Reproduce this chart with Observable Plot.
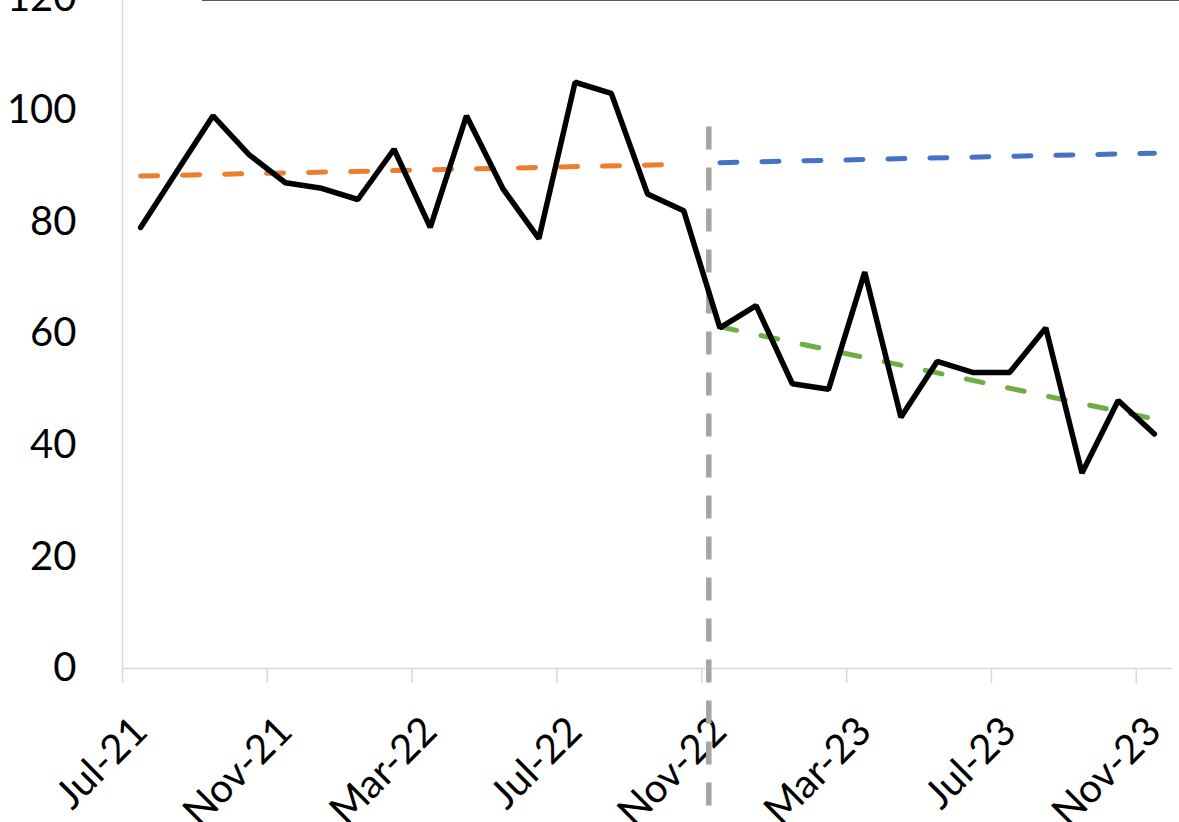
<!DOCTYPE html>
<html><head><meta charset="utf-8">
<script src="https://cdn.jsdelivr.net/npm/d3@7"></script>
<script src="https://cdn.jsdelivr.net/npm/@observablehq/plot@0.6"></script>
<style>
body{margin:0;background:#fff;overflow:hidden}
#wrap{position:relative;width:1179px;height:822px}
#topline{position:absolute;left:202px;top:0;width:977px;height:0;border-top:1.5px solid #595959}
svg{overflow:visible}
</style></head><body><div id="wrap"><div id="chart"></div><div id="topline"></div></div>
<script>
const months = ["Jul-21","Aug-21","Sep-21","Oct-21","Nov-21","Dec-21",
  "Jan-22","Feb-22","Mar-22","Apr-22","May-22","Jun-22","Jul-22","Aug-22","Sep-22","Oct-22","Nov-22","Dec-22",
  "Jan-23","Feb-23","Mar-23","Apr-23","May-23","Jun-23","Jul-23","Aug-23","Sep-23","Oct-23","Nov-23"];
const values = [79,89,99,92,87,86,
  84,93,79,99,86,77,105,103,85,82,61,65,
  51,50,71,45,55,53,53,61,35,48,42];
const tickLabels = ["Jul-21","Nov-21","Mar-22","Jul-22","Nov-22","Mar-23","Jul-23","Nov-23"];
const yTicks = [0,20,40,60,80,100,120];

const preTrendMonths = ["Jul-21","Oct-22"];
const preTrendValues = [88.2,90.3];
const projTrendMonths = ["Nov-22","Nov-23"];
const projTrendValues = [90.6,92.3];
const postTrendMonths = ["Nov-22","Nov-23"];
const postTrendValues = [61.2,44.7];
const cutoffMonth = "Nov-22";
const cutoffRange = [97,-28];

const idx = m => months.indexOf(m);
const series = months.map((m,i)=>({m, v: values[i]}));
const pts = (ms, vs) => ms.map((m,i)=>({m, v: vs[i]}));

const chart = Plot.plot({
  width:1179, height:822,
  marginLeft:122, marginRight:7, marginTop:0, marginBottom:154,
  x:{domain:[0, months.length]},
  y:{domain:[0,120], range:[668,-2]},
  style:{fontFamily:"Lato", fontSize:"40px", color:"#000", background:"white", overflow:"visible"},
  marks:[
    Plot.ruleX([0],{y1:0, y2:120, stroke:"#d9d9d9", strokeWidth:1.5}),
    Plot.ruleY([0],{x1:0, x2:months.length, stroke:"#d9d9d9", strokeWidth:1.5}),
    Plot.axisY({ticks:yTicks, tickSize:0, tickPadding:46, label:null, fontSize:40}),
    Plot.axisX({ticks:tickLabels.map(idx), tickFormat:()=>"", tickSize:15, stroke:"#d9d9d9", strokeWidth:1.5, label:null}),
    Plot.axisX({ticks:tickLabels.map(idx), tickFormat:i=>months[i], tickSize:0,
      tickRotate:-45, tickPadding:56, dx:18, label:null, fontSize:40}),
    Plot.ruleX([cutoffMonth],{x:d=>idx(d), y1:cutoffRange[0], y2:cutoffRange[1], dx:7,
      stroke:"#a5a5a5", strokeWidth:5.5, strokeDasharray:"23,18"}),
    Plot.line(pts(preTrendMonths,preTrendValues),{x:d=>idx(d.m)+0.5, y:"v", stroke:"#ED7D31", strokeWidth:5,
      strokeDasharray:"17,25", strokeLinecap:"round"}),
    Plot.line(pts(projTrendMonths,projTrendValues),{x:d=>idx(d.m)+0.5, y:"v", stroke:"#4472C4", strokeWidth:5,
      strokeDasharray:"17,25", strokeLinecap:"round"}),
    Plot.line(pts(postTrendMonths,postTrendValues),{x:d=>idx(d.m)+0.5, y:"v", stroke:"#70AD47", strokeWidth:5,
      strokeDasharray:"17,25", strokeLinecap:"round"}),
    Plot.line(series,{x:d=>idx(d.m)+0.5, y:"v", stroke:"#000", strokeWidth:5.5,
      strokeLinejoin:"miter", strokeLinecap:"round"})
  ]
});
document.getElementById("chart").appendChild(chart);
</script></body></html>
